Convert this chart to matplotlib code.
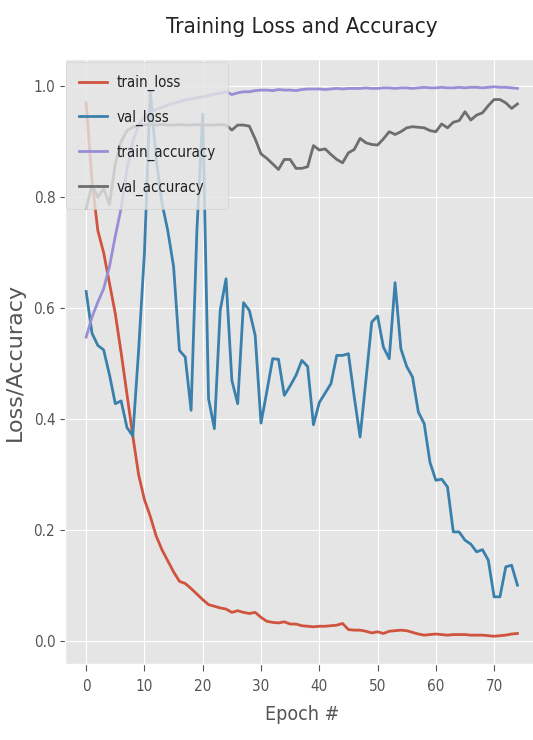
import os
import matplotlib
matplotlib.use("Agg")
import matplotlib.pyplot as plt
from matplotlib import font_manager as fm

plt.style.use("ggplot")

epochs = list(range(75))

train_loss = [0.97, 0.83, 0.74, 0.70, 0.645, 0.59, 0.52, 0.445, 0.37, 0.30,
              0.255, 0.225, 0.19, 0.165, 0.145, 0.125, 0.108, 0.104, 0.095, 0.085,
              0.075, 0.066, 0.063, 0.060, 0.058, 0.052, 0.055, 0.052, 0.050, 0.052,
              0.043, 0.036, 0.034, 0.033, 0.035, 0.031, 0.031, 0.028, 0.027, 0.026,
              0.027, 0.027, 0.028, 0.029, 0.032, 0.021, 0.020, 0.020, 0.018, 0.015,
              0.017, 0.014, 0.018, 0.019, 0.020, 0.019, 0.016, 0.013, 0.011, 0.012,
              0.013, 0.012, 0.011, 0.012, 0.012, 0.012, 0.011, 0.011, 0.011, 0.010,
              0.009, 0.010, 0.011, 0.013, 0.014]

val_loss = [0.63, 0.555, 0.533, 0.525, 0.48, 0.428, 0.433, 0.385, 0.37, 0.524,
            0.70, 0.99, 0.87, 0.79, 0.74, 0.675, 0.524, 0.512, 0.416, 0.74,
            0.95, 0.437, 0.383, 0.596, 0.653, 0.47, 0.428, 0.61, 0.596, 0.551,
            0.393, 0.45, 0.509, 0.508, 0.443, 0.46, 0.479, 0.506, 0.495, 0.39,
            0.43, 0.447, 0.464, 0.515, 0.515, 0.518, 0.44, 0.368, 0.47, 0.575,
            0.586, 0.53, 0.509, 0.646, 0.527, 0.495, 0.476, 0.413, 0.392, 0.322,
            0.29, 0.292, 0.278, 0.197, 0.197, 0.182, 0.175, 0.161, 0.165, 0.146,
            0.08, 0.08, 0.134, 0.137, 0.101]

train_accuracy = [0.548, 0.584, 0.611, 0.635, 0.675, 0.73, 0.78, 0.85, 0.90, 0.93,
                  0.945, 0.952, 0.958, 0.962, 0.966, 0.969, 0.972, 0.975, 0.977, 0.979,
                  0.981, 0.983, 0.986, 0.987, 0.99, 0.985, 0.988, 0.99, 0.99, 0.992,
                  0.993, 0.993, 0.992, 0.994, 0.993, 0.993, 0.992, 0.994, 0.995, 0.995,
                  0.995, 0.994, 0.995, 0.996, 0.995, 0.996, 0.996, 0.996, 0.997, 0.996,
                  0.996, 0.997, 0.997, 0.996, 0.997, 0.997, 0.996, 0.997, 0.998, 0.997,
                  0.997, 0.998, 0.997, 0.997, 0.998, 0.997, 0.998, 0.998, 0.997, 0.998,
                  0.999, 0.998, 0.998, 0.997, 0.996]

val_accuracy = [0.78, 0.822, 0.80, 0.815, 0.787, 0.86, 0.90, 0.92, 0.926, 0.93,
                0.93, 0.931, 0.93, 0.931, 0.93, 0.93, 0.931, 0.93, 0.93, 0.931,
                0.93, 0.93, 0.93, 0.931, 0.93, 0.921, 0.93, 0.93, 0.928, 0.905,
                0.878, 0.87, 0.86, 0.85, 0.868, 0.868, 0.852, 0.852, 0.855, 0.893,
                0.885, 0.887, 0.877, 0.868, 0.862, 0.88, 0.886, 0.906, 0.898, 0.895,
                0.894, 0.905, 0.918, 0.913, 0.918, 0.925, 0.927, 0.926, 0.925, 0.920,
                0.918, 0.932, 0.925, 0.935, 0.938, 0.954, 0.939, 0.948, 0.952, 0.965,
                0.976, 0.976, 0.97, 0.96, 0.968]

series = [("train_loss", train_loss), ("val_loss", val_loss),
          ("train_accuracy", train_accuracy), ("val_accuracy", val_accuracy)]
colors = ["#D0533D", "#3A80AC", "#988ED5", "#6E6E6E"]

title_text = "Training Loss and Accuracy"
xlabel_text = "Epoch #"
ylabel_text = "Loss/Accuracy"
yticks = [0.0, 0.2, 0.4, 0.6, 0.8, 1.0]
xticks = [0, 10, 20, 30, 40, 50, 60, 70]


def pick_narrow():
    cands = [("DejaVu Sans", "condensed"), ("DejaVu Sans Condensed", "normal"),
             ("Liberation Sans Narrow", "normal"), ("Roboto Condensed", "normal"),
             ("Open Sans Condensed", "normal"), ("Noto Sans", "condensed")]
    for fam, st in cands:
        try:
            p = fm.findfont(fm.FontProperties(family=fam, stretch=st),
                            fallback_to_default=False)
        except Exception:
            continue
        n = os.path.basename(p).lower()
        if "narrow" in n or "condensed" in n:
            return fam, st
    return "DejaVu Sans", "normal"


NFAM, NSTR = pick_narrow()
narrow = dict(family=NFAM, stretch=NSTR)

W, H = 533, 740
fig = plt.figure(figsize=(W / 100, H / 100), dpi=100)
fig.patch.set_facecolor("white")
L, R, T, B = 64.6, 539.0, 59.0, 664.0
ax = fig.add_axes([L / W, 1 - B / H, (R - L) / W, (B - T) / H])

for (name, vals), c in zip(series, colors):
    ax.plot(epochs, vals, color=c, lw=2.0, label=name)

ax.set_xlim(-3.7, 77.7)
ax.set_ylim(-0.041, 1.049)
ax.set_xticks(xticks)
ax.set_yticks(yticks)
ax.set_yticklabels([f"{v:.1f}" for v in yticks])

ax.tick_params(axis="x", length=5, pad=6, labelsize=11, colors="#555555")
ax.tick_params(axis="y", length=3.7, pad=3, labelsize=11, colors="#555555")
for lab in ax.get_xticklabels() + ax.get_yticklabels():
    lab.set_fontfamily(NFAM)
    lab.set_fontstretch(NSTR)

ax.set_title(title_text, fontsize=16, pad=19, color="#222222", **narrow)
ax.set_xlabel(xlabel_text, fontsize=14, labelpad=8, color="#555555", **narrow)
ax.set_ylabel(ylabel_text, fontsize=16, labelpad=6, color="#555555",
              family="DejaVu Sans")

leg = ax.legend(loc="upper left", bbox_to_anchor=(66 / W, 1 - 62 / H),
                bbox_transform=fig.transFigure, borderaxespad=0,
                prop=fm.FontProperties(family=NFAM, stretch=NSTR, size=10.8),
                handlelength=1.9, handletextpad=0.6, labelspacing=1.25,
                borderpad=0.85, framealpha=0.8)
for t in leg.get_texts():
    t.set_color("#222222")

fig.savefig("out.png", dpi=100)
